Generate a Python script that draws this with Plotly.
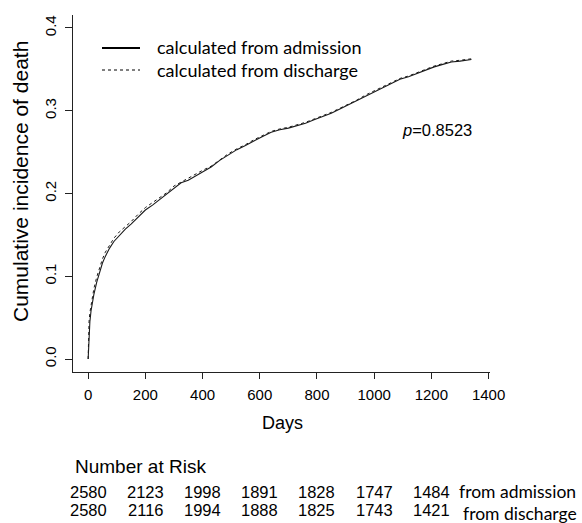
import plotly.graph_objects as go

# ---- data ----
days_adm = [0, 1, 3, 6, 10, 15, 20, 30, 40, 50, 60, 75, 90, 110, 130, 150, 175, 200,
            225, 250, 275, 300, 325, 350, 375, 400, 430, 460, 490, 520, 550, 580, 610,
            640, 670, 700, 730, 760, 790, 820, 850, 880, 910, 940, 970, 1000, 1030,
            1060, 1090, 1120, 1150, 1180, 1210, 1240, 1270, 1300, 1320, 1340]
cif_adm = [0.0, 0.012, 0.028, 0.045, 0.058, 0.070, 0.078, 0.093, 0.105, 0.116, 0.124,
           0.134, 0.142, 0.150, 0.157, 0.163, 0.172, 0.180, 0.186, 0.193, 0.199, 0.207,
           0.213, 0.216, 0.221, 0.226, 0.232, 0.240, 0.247, 0.253, 0.258, 0.264, 0.269,
           0.274, 0.277, 0.279, 0.282, 0.285, 0.289, 0.293, 0.297, 0.302, 0.307, 0.312,
           0.318, 0.323, 0.328, 0.333, 0.338, 0.341, 0.345, 0.349, 0.353, 0.356, 0.359,
           0.360, 0.361, 0.362]

days_dis = [0, 1, 3, 6, 10, 15, 20, 30, 40, 50, 60, 75, 90, 110, 130, 150, 175, 200,
            225, 250, 275, 300, 325, 350, 375, 400, 430, 460, 490, 520, 550, 580, 610,
            640, 670, 700, 730, 760, 790, 820, 850, 880, 910, 940, 970, 1000, 1030,
            1060, 1090, 1120, 1150, 1180, 1210, 1240, 1270, 1300, 1320, 1345]
cif_dis = [0.0, 0.030, 0.045, 0.056, 0.066, 0.076, 0.085, 0.099, 0.111, 0.121, 0.129,
           0.138, 0.146, 0.154, 0.160, 0.166, 0.175, 0.183, 0.189, 0.195, 0.201, 0.209,
           0.214, 0.218, 0.223, 0.228, 0.233, 0.241, 0.248, 0.254, 0.259, 0.265, 0.270,
           0.275, 0.278, 0.280, 0.283, 0.286, 0.290, 0.294, 0.298, 0.303, 0.308, 0.313,
           0.319, 0.324, 0.329, 0.334, 0.339, 0.342, 0.346, 0.350, 0.354, 0.357, 0.360,
           0.361, 0.362, 0.363]

x_ticks = [0, 200, 400, 600, 800, 1000, 1200, 1400]
y_ticks = [0.0, 0.1, 0.2, 0.3, 0.4]
y_tick_labels = ["0.0", "0.1", "0.2", "0.3", "0.4"]

risk_days = [0, 200, 400, 600, 800, 1000, 1200]
risk_adm = [2580, 2123, 1998, 1891, 1828, 1747, 1484]
risk_dis = [2580, 2116, 1994, 1888, 1825, 1743, 1421]

series_names = ["calculated from admission", "calculated from discharge"]
p_text = "<i>p</i>=0.8523"

# ---- layout geometry (pixels) ----
W, H = 582, 523
L, R, T, B = 73, 92, 15, 151
PW, PH = W - L - R, H - T - B

def px_x(p):
    return (p - L) / PW

def px_y(p):
    return (H - B - p) / PH

ARIAL = "Liberation Sans, Arial, sans-serif"
CAL = "Lato, Open Sans, sans-serif"

fig = go.Figure()
fig.add_trace(go.Scatter(x=days_adm, y=cif_adm, mode="lines",
                         line=dict(color="#1a1a1a", width=1.1), name=series_names[0],
                         showlegend=False))
fig.add_trace(go.Scatter(x=days_dis, y=cif_dis, mode="lines",
                         line=dict(color="#1a1a1a", width=1, dash="dot"),
                         name=series_names[1], showlegend=False))

ann = []
# axis titles
ann.append(dict(text="Days", xref="paper", yref="paper", x=px_x(282), y=px_y(423),
                xanchor="center", yanchor="middle", showarrow=False,
                font=dict(family=ARIAL, size=18, color="black")))
ann.append(dict(text="Cumulative incidence of death", xref="paper", yref="paper",
                x=px_x(20), y=px_y(182), xanchor="center", yanchor="middle",
                textangle=-90, showarrow=False,
                font=dict(family=ARIAL, size=21, color="black")))
# p value
ann.append(dict(text=p_text, xref="paper", yref="paper", x=px_x(437), y=px_y(130),
                xanchor="center", yanchor="middle", showarrow=False,
                font=dict(family=ARIAL, size=16.5, color="black")))
# legend text
for yy, nm in zip([47, 70], series_names):
    ann.append(dict(text=nm, xref="paper", yref="paper", x=px_x(155), y=px_y(yy),
                    xanchor="left", yanchor="middle", showarrow=False,
                    font=dict(family=CAL, size=18, color="black")))
# number at risk
ann.append(dict(text="Number at Risk", xref="paper", yref="paper", x=px_x(73), y=px_y(466),
                xanchor="left", yanchor="middle", showarrow=False,
                font=dict(family=ARIAL, size=19, color="black")))
for d, a, b in zip(risk_days, risk_adm, risk_dis):
    ann.append(dict(text=str(a), xref="x", yref="paper", x=d, y=px_y(492),
                    xanchor="center", yanchor="middle", showarrow=False,
                    font=dict(family=ARIAL, size=16.5, color="black")))
    ann.append(dict(text=str(b), xref="x", yref="paper", x=d, y=px_y(510),
                    xanchor="center", yanchor="middle", showarrow=False,
                    font=dict(family=ARIAL, size=16.5, color="black")))
ann.append(dict(text="from admission", xref="paper", yref="paper", x=px_x(457), y=px_y(491),
                xanchor="left", yanchor="middle", showarrow=False,
                font=dict(family=CAL, size=17.5, color="black")))
ann.append(dict(text="from discharge", xref="paper", yref="paper", x=px_x(461), y=px_y(513),
                xanchor="left", yanchor="middle", showarrow=False,
                font=dict(family=CAL, size=17.5, color="black")))

shapes = [
    dict(type="line", xref="paper", yref="paper", x0=px_x(102), x1=px_x(140),
         y0=px_y(48), y1=px_y(48), line=dict(color="black", width=2.2)),
    dict(type="line", xref="paper", yref="paper", x0=px_x(102), x1=px_x(140),
         y0=px_y(70), y1=px_y(70), line=dict(color="black", width=1, dash="dot")),
]

fig.update_layout(
    width=W, height=H, autosize=False,
    margin=dict(l=L, r=R, t=T, b=B, pad=0),
    paper_bgcolor="white", plot_bgcolor="white",
    showlegend=False,
    annotations=ann, shapes=shapes,
    xaxis=dict(range=[-53, 1405], tickvals=x_ticks, ticktext=[str(v) for v in x_ticks],
               showgrid=False, zeroline=False, showline=True, linecolor="#222",
               linewidth=1, ticks="outside", ticklen=6, tickcolor="#222",
               tickfont=dict(family=ARIAL, size=15, color="black"),
               ticklabelstandoff=3),
    yaxis=dict(range=[-0.0157, 0.4157], tickvals=y_ticks, ticktext=y_tick_labels,
               showgrid=False, zeroline=False, showline=True, linecolor="#222",
               linewidth=1, ticks="outside", ticklen=7, tickcolor="#222",
               tickangle=-90,
               tickfont=dict(family=ARIAL, size=15, color="black"),
               ticklabelstandoff=3),
)

fig.write_html("out.html", config={"displayModeBar": False},
               post_script="document.body.style.margin='0';document.body.style.overflow='hidden';")
